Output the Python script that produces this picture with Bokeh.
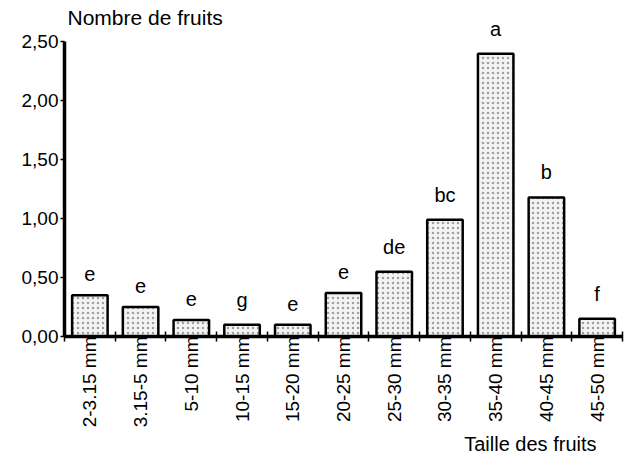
from bokeh.plotting import figure
from bokeh.models import FixedTicker, CustomJSTickFormatter, Label, Range1d, Title
from bokeh.core.properties import value
from bokeh.embed import file_html
from bokeh.resources import INLINE
import math

categories = ["2-3.15 mm", "3.15-5 mm", "5-10 mm", "10-15 mm", "15-20 mm", "20-25 mm",
              "25-30 mm", "30-35 mm", "35-40 mm", "40-45 mm", "45-50 mm"]
values = [0.35, 0.25, 0.14, 0.10, 0.10, 0.37, 0.55, 0.99, 2.40, 1.18, 0.15]
letters = ["e", "e", "e", "g", "e", "e", "de", "bc", "a", "b", "f"]
y_ticks = [0.0, 0.5, 1.0, 1.5, 2.0, 2.5]

FONT = "Liberation Sans"
n = len(categories)
xs = list(range(n))

p = figure(width=624, height=455, output_backend="svg", toolbar_location=None,
           x_range=Range1d(-0.5, n - 0.5), y_range=Range1d(0, 2.8),
           min_border_left=64, min_border_right=2, min_border_top=6, min_border_bottom=119)
p.outline_line_color = None
p.grid.visible = False
p.background_fill_color = "white"

p.vbar(x=xs, top=values, width=0.7, bottom=0,
       fill_color="#f3f3f3", line_color="black", line_width=2.5,
       hatch_pattern=".", hatch_color="#a0a0a0", hatch_scale=5, hatch_weight=1)

p.text(x=xs, y=values, text=letters, y_offset=-14, text_align="center", text_baseline="bottom",
       text_font=value(FONT), text_font_size="20px", text_color="black")

# x axis
xa = p.xaxis[0]
xa.ticker = FixedTicker(ticks=xs, minor_ticks=[i - 0.5 for i in range(n + 1)])
xa.major_label_overrides = {i: c for i, c in zip(xs, categories)}
xa.major_label_orientation = math.pi / 2
xa.major_tick_in = 0
xa.major_tick_out = 0
xa.minor_tick_in = 5
xa.minor_tick_out = 5
xa.minor_tick_line_width = 1.5
xa.minor_tick_line_color = "black"
xa.axis_line_width = 3.5
xa.axis_line_color = "black"
xa.major_label_standoff = -5
xa.major_label_text_font = FONT
xa.major_label_text_font_size = "19px"
xa.major_label_text_color = "black"

# y axis
ya = p.yaxis[0]
ya.bounds = (0, 2.5)
ya.ticker = FixedTicker(ticks=y_ticks, minor_ticks=[])
ya.formatter = CustomJSTickFormatter(code="return tick.toFixed(2).replace('.', ',');")
ya.major_tick_in = 0
ya.major_tick_out = 4
ya.major_tick_line_width = 1.5
ya.minor_tick_line_color = None
ya.axis_line_width = 3.5
ya.axis_line_color = "black"
ya.major_label_standoff = 2
ya.major_label_text_font = FONT
ya.major_label_text_font_size = "19px"
ya.major_label_text_color = "black"

p.add_layout(Label(x=-0.5, y=2.61, text="Nombre de fruits", text_font=FONT,
                   text_font_size="21px", text_align="left", text_baseline="bottom",
                   x_offset=3, text_color="black"))
p.add_layout(Title(text="Taille des fruits", align="right", offset=26, standoff=0,
                   text_font=FONT, text_font_size="20px", text_font_style="normal",
                   text_color="black"), "below")

open("out.html", "w").write(file_html(p, INLINE))
